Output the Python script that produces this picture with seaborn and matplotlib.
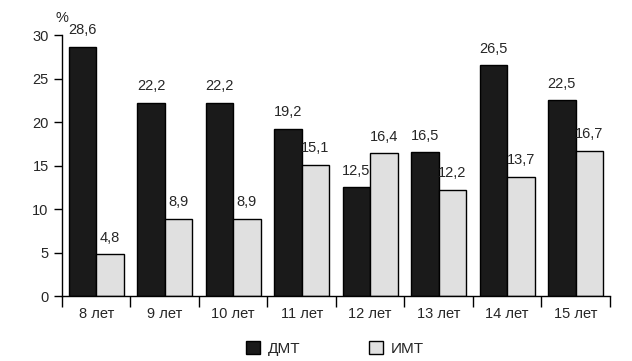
import numpy as np
import pandas as pd
import matplotlib
matplotlib.use("Agg")
import matplotlib.pyplot as plt
import seaborn as sns

ages = ["8 лет", "9 лет", "10 лет", "11 лет", "12 лет", "13 лет", "14 лет", "15 лет"]
dmt = [28.6, 22.2, 22.2, 19.2, 12.5, 16.5, 26.5, 22.5]
imt = [4.8, 8.9, 8.9, 15.1, 16.4, 12.2, 13.7, 16.7]
series = ["ДМТ", "ИМТ"]
colors = ["#1a1a1a", "#e0e0e0"]

df = pd.DataFrame({
    "age": ages * 2,
    "value": dmt + imt,
    "group": [series[0]] * len(ages) + [series[1]] * len(ages),
})

sns.set_style("ticks")
plt.rcParams["font.family"] = ["Liberation Sans", "DejaVu Sans"]

fig = plt.figure(figsize=(6.32, 3.61), dpi=100)
ax = fig.add_axes([0.098, 0.18, 0.867, 0.723])

sns.barplot(data=df, x="age", y="value", hue="group", order=ages,
            hue_order=series, palette=colors, width=0.8,
            edgecolor="black", linewidth=1, saturation=1, ax=ax)

# подписи значений с запятой
for cont in ax.containers:
    ax.bar_label(cont, labels=[f"{v:.1f}".replace(".", ",") for v in cont.datavalues],
                 padding=7, fontsize=10.5)

ax.set_xlim(-0.5, len(ages) - 0.5)
ax.set_ylim(0, 30)
ax.set_yticks(range(0, 31, 5))
ax.set_xticks(np.arange(-0.5, len(ages), 1.0), minor=True)
ax.tick_params(axis="x", which="major", length=0, pad=8, labelsize=10.5)
ax.tick_params(axis="x", which="minor", length=8, width=1, color="black")
ax.tick_params(axis="y", length=6, width=1, color="black", labelsize=10.5)
ax.set_xlabel("")
ax.set_ylabel("")
for s in ["top", "right"]:
    ax.spines[s].set_visible(False)
for s in ["left", "bottom"]:
    ax.spines[s].set_color("black")
    ax.spines[s].set_linewidth(1)

ax.text(0.0, 1.04, "%", transform=ax.transAxes, fontsize=10.5, ha="center", va="bottom")

ax.get_legend().remove()
handles = [plt.Rectangle((0, 0), 1, 1, facecolor=c, edgecolor="black", linewidth=1) for c in colors]
fig.legend(handles, series, loc="center", bbox_to_anchor=(0.53, 0.035), ncol=2,
           frameon=False, fontsize=11, handlelength=0.9, handleheight=0.9,
           columnspacing=4.5, handletextpad=0.5)

fig.savefig("out.png", dpi=100)
